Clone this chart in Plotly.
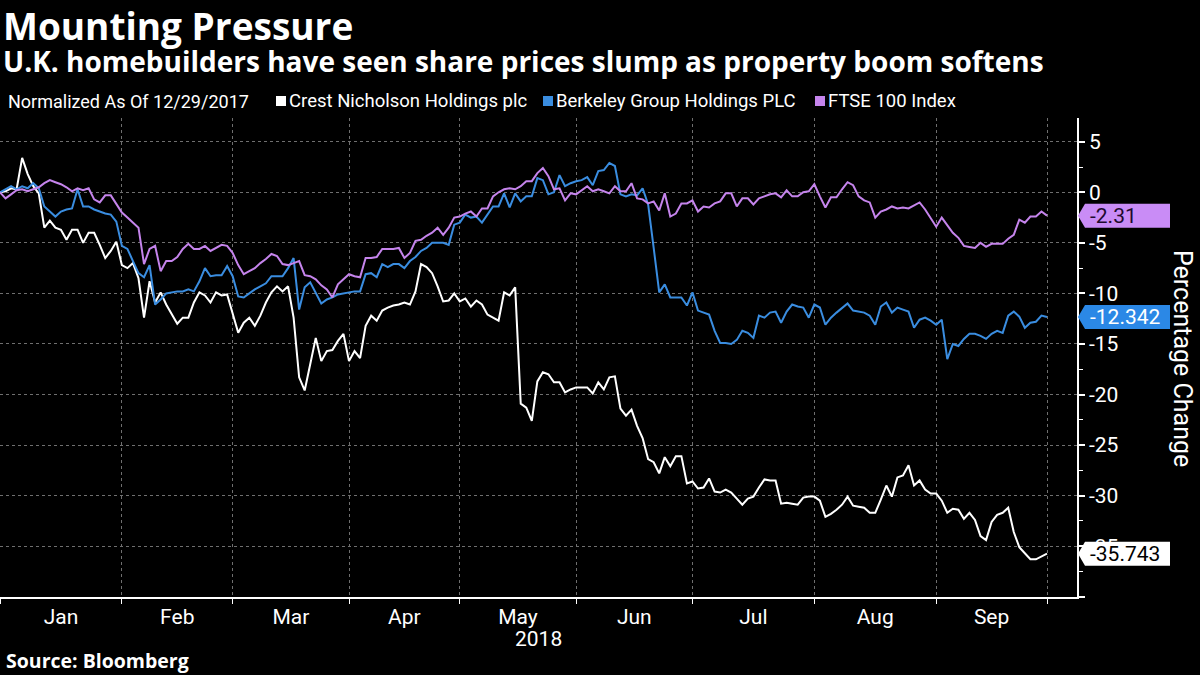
import pandas as pd
import plotly.graph_objects as go

# ---------------- data ----------------
uk_holidays = ["2018-03-30", "2018-04-02", "2018-05-07", "2018-05-28", "2018-08-27"]
dates = pd.bdate_range("2018-01-02", "2018-10-01", freq="C", holidays=uk_holidays)

crest = [
    0.0, 0.1, 0.4, 0.3, 3.4, 1.8, 0.6, -0.1, -3.5, -2.8,
    -3.5, -3.7, -4.7, -3.7, -3.7, -5.0, -4.0, -4.0, -5.2, -6.5,
    -5.8, -4.9, -7.2, -7.5, -7.0, -8.5, -12.4, -8.8, -10.9, -9.9,
    -11.1, -12.0, -13.0, -12.4, -12.4, -10.9, -9.9, -10.2, -10.9, -9.9,
    -10.2, -10.1, -11.9, -13.9, -12.9, -12.4, -13.2, -12.2, -10.9, -9.9,
    -9.3, -9.8, -9.3, -12.4, -18.3, -19.6, -17.0, -14.4, -16.7, -15.7,
    -15.6, -14.7, -14.0, -16.7, -15.7, -16.4, -13.2, -12.2, -12.7, -11.7,
    -11.4, -11.2, -11.1, -10.9, -11.1, -9.8, -7.1, -7.4, -8.0, -9.3,
    -10.8, -10.7, -10.0, -10.8, -10.5, -11.3, -10.7, -11.1, -12.1, -12.4,
    -12.7, -9.9, -10.2, -9.4, -20.9, -21.3, -22.6, -18.7, -17.8, -18.0,
    -18.8, -18.8, -19.8, -19.5, -19.3, -19.3, -19.3, -19.9, -18.8, -19.5,
    -18.3, -18.2, -21.4, -22.1, -21.5, -23.1, -24.3, -26.4, -26.7, -27.8,
    -26.2, -27.1, -26.1, -26.1, -28.8, -28.6, -29.3, -29.2, -28.3, -29.6,
    -29.7, -29.4, -29.7, -30.3, -30.9, -30.3, -30.1, -29.2, -28.4, -28.5,
    -28.5, -30.8, -30.7, -30.8, -30.9, -30.2, -30.1, -30.1, -30.5, -32.1,
    -31.8, -31.4, -30.9, -30.1, -31.0, -31.1, -31.2, -31.7, -31.7, -30.4,
    -29.0, -30.1, -28.2, -28.0, -27.0, -29.0, -28.5, -29.4, -29.8, -29.8,
    -30.5, -31.7, -31.3, -31.4, -32.3, -31.7, -32.4, -34.0, -34.4, -32.6,
    -31.9, -31.7, -31.2, -33.6, -35.1, -35.7, -36.3, -36.3, -36.0, -35.743,
]

berkeley = [
    0.0, 0.3, 0.6, 0.3, 0.6, 0.4, 0.9, 0.4, -1.4, -1.9,
    -2.4, -1.9, -1.7, -1.6, 0.3, -1.4, -1.4, -1.7, -1.9, -2.1,
    -2.2, -2.9, -5.3, -5.6, -6.8, -8.0, -8.4, -7.2, -11.1, -10.6,
    -10.0, -9.9, -9.8, -9.8, -9.6, -9.8, -8.8, -7.5, -8.3, -8.2,
    -8.2, -7.3, -8.3, -10.3, -10.4, -10.0, -9.6, -9.3, -9.0, -8.3,
    -8.3, -8.3, -7.5, -6.5, -11.6, -9.4, -8.9, -9.9, -11.0, -10.6,
    -10.4, -10.1, -10.0, -9.9, -9.8, -9.8, -8.1, -8.0, -8.4, -7.1,
    -7.4, -7.1, -7.1, -7.5, -6.8, -6.4, -5.8, -5.5, -5.0, -5.0,
    -5.0, -5.2, -3.2, -3.0, -2.2, -2.5, -2.4, -3.0, -2.2, -1.4,
    -1.4, -0.1, -1.5, -0.1, -0.9, -0.4, -0.4, 1.4, 1.2, -0.2,
    0.0, 1.7, 0.6, 0.9, 1.1, 1.2, 1.5, 0.7, 2.1, 2.2,
    2.9, 2.6, -0.2, -0.4, -0.2, -0.3, 0.4, -1.2, -5.5, -9.9,
    -9.1, -10.4, -10.4, -10.4, -11.2, -9.9, -11.7, -11.9, -12.1, -13.7,
    -14.9, -14.9, -15.0, -14.6, -13.7, -13.9, -14.4, -12.2, -12.4, -11.9,
    -11.8, -12.9, -11.8, -11.1, -11.3, -11.4, -12.4, -11.1, -11.4, -13.1,
    -12.4, -11.9, -11.4, -11.0, -11.7, -11.8, -11.9, -12.2, -13.1, -11.3,
    -10.9, -11.9, -11.4, -11.6, -11.8, -13.4, -12.6, -12.4, -12.7, -13.1,
    -12.6, -16.5, -15.0, -15.2, -14.5, -14.0, -14.0, -14.2, -14.5, -14.0,
    -13.7, -13.9, -12.2, -11.8, -12.3, -13.4, -12.9, -12.8, -12.2, -12.342,
]

ftse = [
    0.0, -0.6, -0.2, 0.2, 0.3, 0.1, 0.3, 0.5, 0.9, 1.2,
    1.0, 0.8, 0.5, 0.1, 0.4, 0.2, 0.4, -0.7, -1.0, -0.3,
    -0.3, -1.2, -2.0, -2.5, -3.0, -3.5, -7.1, -5.6, -5.3, -7.8,
    -6.8, -6.8, -6.4, -5.6, -5.1, -5.6, -5.6, -5.3, -5.8, -5.5,
    -5.2, -5.3, -6.0, -7.2, -8.1, -7.8, -7.5, -7.0, -6.6, -6.1,
    -6.3, -7.1, -7.2, -7.0, -6.8, -8.2, -8.3, -8.6, -9.2, -9.6,
    -10.4, -9.1, -8.6, -8.1, -8.3, -8.4, -6.5, -6.5, -6.4, -5.6,
    -5.6, -5.6, -5.5, -6.5, -6.0, -4.8, -4.7, -4.3, -4.0, -3.5,
    -4.2, -3.5, -2.5, -2.4, -2.1, -1.9, -2.4, -1.6, -1.6, -0.4,
    0.0, 0.3, 0.4, 0.3, 0.6, 1.1, 1.1, 1.9, 2.4, 1.6,
    0.3, 0.4, -0.8, -0.1, -0.2, 0.2, 0.6, 0.1, 0.3, 0.1,
    -0.1, 0.6, 0.1, 0.1, 0.9, -0.6, -0.7, -1.1, -0.9, -1.8,
    -0.1, -2.4, -2.1, -1.1, -1.1, -0.8, -1.9, -1.4, -1.5, -1.1,
    -0.9, -0.1, -0.1, -1.4, -0.6, -0.6, -1.2, -0.6, -0.4, -0.2,
    -0.1, -0.5, 0.2, -0.4, -0.4, 0.0, 0.1, 0.8, -0.4, -1.5,
    -0.5, -0.5, 0.3, 1.0, 0.7, -0.4, -0.8, -1.0, -2.5, -1.9,
    -1.7, -1.4, -1.6, -1.5, -1.6, -1.3, -1.0, -1.7, -2.5, -3.4,
    -2.5, -3.2, -4.0, -4.5, -5.3, -5.4, -5.5, -5.0, -5.4, -5.1,
    -5.1, -5.1, -4.6, -4.2, -2.7, -3.0, -2.4, -2.4, -1.9, -2.31,
]

series_names = ["Crest Nicholson Holdings plc", "Berkeley Group Holdings PLC", "FTSE 100 Index"]
series_values = [crest, berkeley, ftse]
series_colors = ["#ffffff", "#3a8de0", "#c584ec"]
label_fill = ["#ffffff", "#2b88e6", "#c98cf6"]
label_text = ["#000000", "#ffffff", "#1e0a2e"]

y_tick_values = [5, 0, -5, -10, -15, -20, -25, -30, -35, -40]
y_tick_labels = ["5", "0", "-5", "-10", "-15", "-20", "-25", "-30", "-35", ""]
y_minor_values = [2.5, -2.5, -7.5, -12.5, -17.5, -22.5, -27.5, -32.5, -37.5]

# ---------------- geometry helpers ----------------
W, H = 1200, 675
PL, PR, PT, PB = 0, 1077, 118, 597   # plot area in pixels
PW, PH = PR - PL, PB - PT


def px(x):
    return (x - PL) / PW


def py(y):
    return (PB - y) / PH


n = min(len(dates), len(crest))
xs = list(range(n))
date_text = [d.strftime("%d %b %Y") for d in dates[:n]]

# month boundaries (first trading day of each month) and label positions
starts = [i for i in range(n) if i == 0 or dates[i].month != dates[i - 1].month]
month_labels = [dates[s].strftime("%b") for s in starts[:-1]]
month_mids = [(starts[k] + starts[k + 1]) / 2 for k in range(len(starts) - 1)]

x_max = (n - 1) * PW / 1047.0

fig = go.Figure()
for name, vals, col in zip(series_names, series_values, series_colors):
    fig.add_trace(go.Scatter(
        x=xs, y=vals[:n], mode="lines", name=name,
        line=dict(color=col, width=2),
        text=date_text, hovertemplate="%{text}: %{y:.2f}<extra>" + name + "</extra>",
    ))

grid_col = "#6f6f6f"
fig.update_layout(
    width=W, height=H,
    paper_bgcolor="#000000", plot_bgcolor="#000000",
    margin=dict(l=PL, r=W - PR, t=PT, b=H - PB, pad=0),
    showlegend=False,
    font=dict(family="Roboto", color="#ffffff", size=18),
    xaxis=dict(
        range=[0, x_max],
        tickmode="array", tickvals=month_mids, ticktext=month_labels,
        ticks="", showgrid=False, zeroline=False,
        showline=True, linecolor="#ffffff", linewidth=1.5,
        tickfont=dict(family="Roboto", size=21, color="#ffffff"),
        minor=dict(tickmode="array", tickvals=starts, ticks="outside", ticklen=5,
                   tickcolor="#ffffff", tickwidth=1,
                   showgrid=True, gridcolor=grid_col, griddash="dot", gridwidth=1),
    ),
    yaxis=dict(
        side="right", range=[-40.03, 7.35],
        tickmode="array", tickvals=y_tick_values, ticktext=y_tick_labels,
        ticks="outside", ticklen=6, tickwidth=2, tickcolor="#ffffff",
        showline=True, linecolor="#ffffff", linewidth=1.5,
        showgrid=True, gridcolor=grid_col, griddash="dot", gridwidth=1,
        zeroline=False,
        tickfont=dict(family="Roboto", size=21, color="#ffffff"),
        minor=dict(tickmode="array", tickvals=y_minor_values, ticks="outside",
                   ticklen=4, tickcolor="#ffffff", tickwidth=1, showgrid=False),
    ),
)

annotations = []
shapes = []

# Titles
annotations.append(dict(text="<b>Mounting Pressure</b>", x=px(1), y=py(25.5),
                        xref="paper", yref="paper", xanchor="left", yanchor="middle",
                        showarrow=False, font=dict(family="Open Sans", size=37, color="#ffffff")))
annotations.append(dict(text="<b>U.K. homebuilders have seen share prices slump as property boom softens</b>",
                        x=px(1), y=py(60.5), xref="paper", yref="paper", xanchor="left", yanchor="middle",
                        showarrow=False, font=dict(family="Open Sans", size=28, color="#ffffff")))

# Legend row
annotations.append(dict(text="Normalized As Of 12/29/2017", x=px(6), y=py(101),
                        xref="paper", yref="paper", xanchor="left", yanchor="middle",
                        showarrow=False, font=dict(family="Roboto", size=18, color="#ffffff")))
legend_sq_x = [276, 543, 815]
for name, col, sx in zip(series_names, series_colors, legend_sq_x):
    shapes.append(dict(type="rect", xref="paper", yref="paper",
                       x0=px(sx), x1=px(sx + 10), y0=py(106), y1=py(96),
                       fillcolor=col, line=dict(width=0)))
    annotations.append(dict(text=name, x=px(sx + 11), y=py(101),
                            xref="paper", yref="paper", xanchor="left", yanchor="middle",
                            showarrow=False, font=dict(family="Roboto", size=18.5, color="#ffffff")))

# Axis title (reads top to bottom)
annotations.append(dict(text="Percentage Change", x=px(1183), y=py(358),
                        xref="paper", yref="paper", xanchor="center", yanchor="middle",
                        textangle=90, showarrow=False,
                        font=dict(family="Roboto", size=25, color="#ffffff")))

# Year under the month labels
annotations.append(dict(text="2018", x=0.5, y=py(638.5), xref="paper", yref="paper",
                        xanchor="center", yanchor="middle", showarrow=False,
                        font=dict(family="Roboto", size=21, color="#ffffff")))

# Source
annotations.append(dict(text="<b>Source: Bloomberg</b>", x=px(4), y=py(660.5),
                        xref="paper", yref="paper", xanchor="left", yanchor="middle",
                        showarrow=False, font=dict(family="Open Sans", size=19.5, color="#ffffff")))

# End-value tags on the right axis
half_h = 12.0 / (PH / (7.35 + 40.03))
tip, rect0, rect1 = px(1078), px(1085), px(1170)
for vals, fill, tcol in zip(series_values, label_fill, label_text):
    v = vals[n - 1]
    path = (f"M {tip},{v} L {rect0},{v + half_h} L {rect1},{v + half_h} "
            f"L {rect1},{v - half_h} L {rect0},{v - half_h} Z")
    shapes.append(dict(type="path", path=path, xref="paper", yref="y",
                       fillcolor=fill, line=dict(width=0), layer="above"))
    txt = f"{v:.3f}".rstrip("0").rstrip(".")
    annotations.append(dict(text=txt, x=px(1088), y=v, xref="paper", yref="y",
                            xanchor="left", yanchor="middle", showarrow=False,
                            font=dict(family="Roboto", size=21, color=tcol)))

fig.update_layout(annotations=annotations, shapes=shapes)

fig.write_html("out.html")
